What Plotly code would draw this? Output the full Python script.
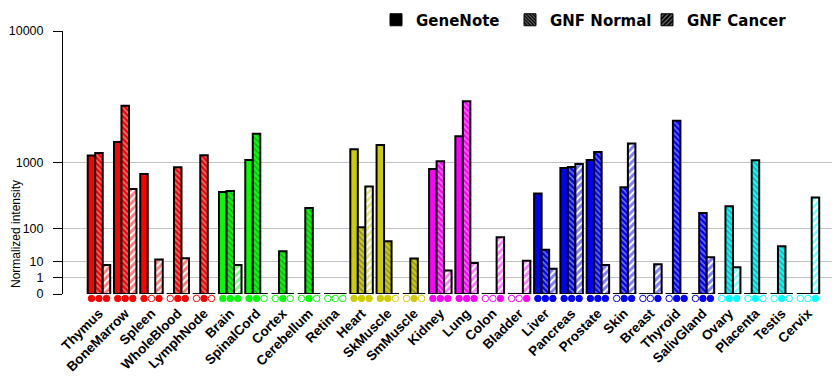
import math
import plotly.graph_objects as go

tissues = ["Thymus", "BoneMarrow", "Spleen", "WholeBlood", "LymphNode",
           "Brain", "SpinalCord", "Cortex", "Cerebellum", "Retina",
           "Heart", "SkMuscle", "SmMuscle",
           "Kidney", "Lung", "Colon", "Bladder",
           "Liver", "Pancreas", "Prostate", "Skin", "Breast", "Thyroid", "SalivGland",
           "Ovary", "Placenta", "Testis", "Cervix"]

tissue_colors = (["#ff0000"] * 5 + ["#00ff00"] * 5 + ["#cccc00"] * 3 +
                 ["#ff00ff"] * 4 + ["#0000ff"] * 7 + ["#00ffff"] * 4)

genenote = [1190, 1620, 736, 0, 0, 429, 1064, 0, 0, 0, 1374, 1515, 0, 843,
            1832, 0, 0, 410, 867, 1064, 0, 0, 0, 0, 0, 0, 0, 0]
gnf_normal = [1260, 3290, 0, 883, 1194, 443, 1925, 24, 243, 0, 105, 48, 13, 1030,
              3565, 0, 0, 27, 890, 1290, 502, 0, 2494, 199, 262, 1057, 34.5, 0]
gnf_cancer = [6.6, 472, 11.6, 13.2, 0, 6.6, 0, 0, 0, 0, 513, 0, 0, 3.3,
              8.3, 61, 10.5, 4.2, 962, 6.6, 1563, 7.1, 0, 14.4, 5.0, 0, 0, 359]

gn_present = [1, 1, 1, 0, 0, 1, 1, 0, 0, 0, 1, 1, 0, 1, 1, 0, 0, 1, 1, 1, 0, 0, 0, 0, 0, 0, 0, 0]
normal_present = [1, 1, 0, 1, 1, 1, 1, 1, 1, 0, 1, 1, 1, 1, 1, 0, 0, 1, 1, 1, 1, 0, 1, 1, 1, 1, 1, 0]
cancer_present = [1, 1, 1, 1, 0, 1, 0, 0, 0, 0, 1, 0, 0, 1, 1, 1, 1, 1, 1, 1, 1, 1, 1, 1, 1, 0, 0, 1]

tick_values = [0, 1, 10, 100, 1000, 10000]
tick_labels = ["0", "1", "10", "100", "1000", "10000"]

EXP = math.log10(2)


def scale(v):
    return v ** EXP


FONT = "Arial, Liberation Sans, sans-serif"
WIDE = "DejaVu Sans, Verdana, sans-serif"
xs = list(range(len(tissues)))
BARGAP = 0.143
bw = (1 - BARGAP) / 3

# layout geometry (figure pixels; the page body adds an 8px offset)
PAGE_OFF = 8
W, H = 840 - PAGE_OFF, 385 - PAGE_OFF
LEFT = 63 - PAGE_OFF
TOP, ZERO, STRIP_BOTTOM = 31 - PAGE_OFF, 294 - PAGE_OFF, 302 - PAGE_OFF
plot_w = W - LEFT
plot_h = STRIP_BOTTOM - TOP
split = (STRIP_BOTTOM - ZERO) / plot_h

fig = go.Figure()

series = [
    ("GeneNote", genenote, gn_present, None, "a", "legend", 417),
    ("GNF Normal", gnf_normal, normal_present, "\\", "b", "legend2", 551),
    ("GNF Cancer", gnf_cancer, cancer_present, "/", "c", "legend3", 688),
]

legend_layouts = {}
for k, (name, vals, present, shape, og, lg, text_x) in enumerate(series):
    yv = [scale(v) for v in vals]
    if shape is None:
        marker = dict(color=tissue_colors, line=dict(color="black", width=2))
        lmarker = dict(color="black", line=dict(color="black", width=1))
    elif shape == "\\":
        marker = dict(color=tissue_colors, line=dict(color="black", width=2),
                      pattern=dict(shape="\\", fgcolor="white", bgcolor=tissue_colors,
                                   size=4, solidity=0.35, fillmode="overlay"))
        lmarker = dict(color="black", line=dict(color="black", width=1),
                       pattern=dict(shape="\\", fgcolor="white", bgcolor="black",
                                    size=3, solidity=0.4, fillmode="overlay"))
    else:
        marker = dict(color="white", line=dict(color="black", width=2),
                      pattern=dict(shape="/", fgcolor=tissue_colors, bgcolor="white",
                                   size=5, solidity=0.6, fillmode="overlay"))
        lmarker = dict(color="black", line=dict(color="black", width=1),
                       pattern=dict(shape="/", fgcolor="white", bgcolor="black",
                                    size=4, solidity=0.35, fillmode="overlay"))
    fig.add_trace(go.Bar(x=xs, y=yv, marker=marker, offsetgroup=og,
                         showlegend=False, name=name))
    fig.add_trace(go.Bar(x=[None], y=[None], marker=lmarker, offsetgroup=og,
                         showlegend=True, name=name, legend=lg))
    legend_layouts[lg] = dict(
        orientation="h", x=(text_x - 41 - 63) / plot_w, xanchor="left",
        y=1 + 11 / plot_h, yanchor="middle",
        font=dict(family=WIDE, size=15, color="black", weight="bold"),
        bgcolor="rgba(0,0,0,0)", itemclick=False, itemdoubleclick=False)
    # presence markers in the strip below the zero line
    off = (k - 1) * bw
    fig.add_trace(go.Scatter(
        x=[i + off for i in xs], y=[0.44] * len(xs), yaxis="y2", mode="markers",
        showlegend=False, hoverinfo="skip",
        marker=dict(symbol=["circle" if p else "circle-open" for p in present],
                    size=6.5, color=tissue_colors, line=dict(color=tissue_colors, width=1))))

fig.add_annotation(text="Normalized intensity", textangle=-90, xref="paper", yref="paper",
                   x=(16 - 63) / plot_w, y=(302 - 234) / plot_h,
                   xanchor="center", yanchor="middle", showarrow=False,
                   font=dict(family=FONT, size=12, color="black"))

fig.update_layout(
    width=W, height=H,
    margin=dict(l=LEFT, r=0, t=TOP, b=H - STRIP_BOTTOM, autoexpand=False, pad=0),
    paper_bgcolor="white", plot_bgcolor="white",
    barmode="group", bargap=BARGAP, bargroupgap=0,
    font=dict(family=FONT, color="black"),
    xaxis=dict(range=[-1.37, 28.22], tickvals=xs, ticktext=tissues, tickangle=-45,
               anchor="y2", showgrid=False, zeroline=False, showline=False, ticks="",
               tickfont=dict(family=FONT, size=13.5, color="black", weight="bold")),
    yaxis=dict(domain=[split, 1], range=[0, 16],
               tickvals=[scale(v) for v in tick_values], ticktext=tick_labels,
               showgrid=True, gridcolor="#c0c0c0", gridwidth=1,
               zeroline=False, showline=True, linecolor="black", linewidth=1,
               ticks="outside", ticklen=9, tickcolor="black", ticklabelstandoff=7,
               tickfont=dict(family=FONT, size=12.5, color="black")),
    yaxis2=dict(domain=[0, split], range=[0, 1], showgrid=False, zeroline=False,
                showline=False, showticklabels=False, ticks="", fixedrange=True),
    **legend_layouts,
)

fig.write_html("out.html")
